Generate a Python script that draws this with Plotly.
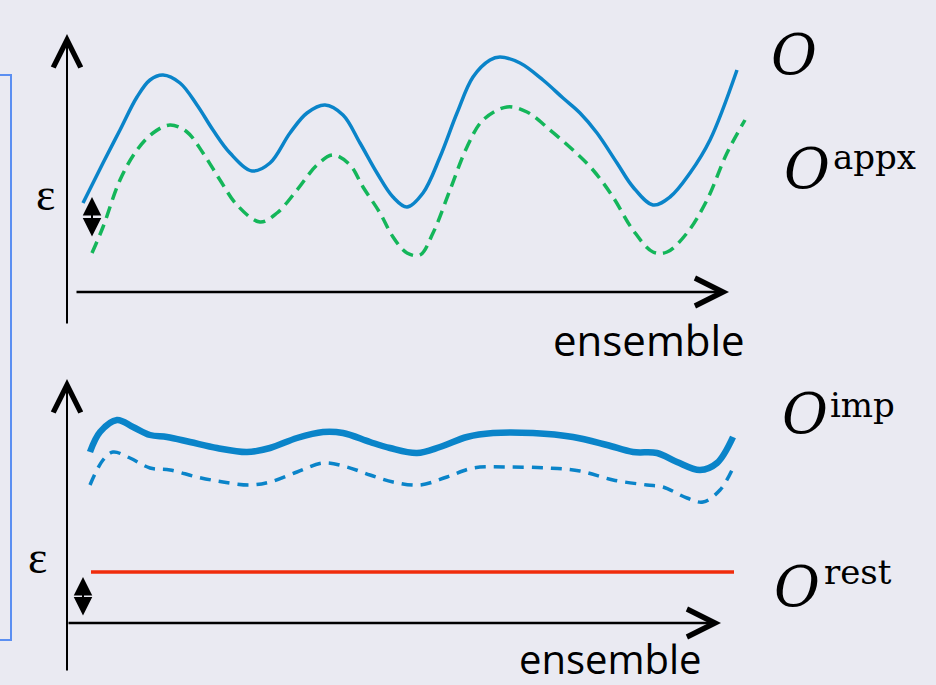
import plotly.graph_objects as go

# ---------------- data ----------------
# x = ensemble position, y = observable height above each panel's baseline axis
top_O_x = [16, 36, 53, 70, 83, 96, 113, 130, 146, 163, 185, 203, 223, 240, 258, 276, 293, 310, 326, 340,
           356, 373, 390, 406, 423, 433, 453, 476, 496, 513, 530, 550, 566, 586, 603, 623, 643, 670]
top_O_y = [89, 129, 162, 195, 212, 217, 209, 187, 162, 139, 121, 129, 159, 179, 187, 177, 149, 119, 95, 85,
           99, 135, 179, 215, 232, 235, 229, 212, 194, 179, 159, 129, 105, 87, 95, 119, 152, 222]

top_appx_x = [25, 36, 53, 70, 86, 103, 120, 136, 153, 170, 193, 210, 230, 250, 266, 283, 296, 313, 326, 340,
              353, 366, 383, 400, 416, 440, 460, 483, 506, 526, 546, 566, 586, 600, 620, 640, 660, 678]
top_appx_y = [39, 65, 112, 142, 159, 167, 160, 139, 112, 87, 70, 79, 102, 127, 137, 127, 105, 79, 55, 39,
              37, 59, 102, 145, 172, 185, 180, 162, 142, 122, 95, 62, 40, 40, 59, 92, 139, 172]

bot_imp_x = [23, 33, 50, 66, 83, 100, 123, 150, 180, 203, 230, 256, 276, 303, 323, 350, 373, 400, 426, 466,
             506, 540, 566, 590, 610, 633, 650, 666]
bot_imp_y = [171, 191, 203, 196, 188, 186, 181, 175, 171, 175, 185, 191, 190, 181, 175, 170, 176, 186, 190, 190,
             186, 178, 171, 170, 161, 153, 160, 186]

bot_dash_x = [23, 36, 46, 63, 83, 103, 130, 156, 183, 203, 230, 256, 280, 303, 326, 353, 380, 406, 440, 480,
              513, 546, 580, 596, 620, 636, 653, 666]
bot_dash_y = [138, 163, 171, 165, 155, 153, 146, 141, 138, 141, 151, 160, 156, 148, 141, 138, 146, 155, 156, 155,
              152, 143, 138, 136, 125, 121, 133, 155]

rest_x = [24, 667]
rest_y = [51, 51]

labels = {"O": "O", "appx": "appx", "imp": "imp", "rest": "rest"}
axis_label = "ensemble"
eps = "ε"

BLUE = "#0A84C9"
GREEN = "#14B65A"
RED = "#F02C0C"
BG = "#EAEAF2"
BRACKET = "#5B8FF2"

fig = go.Figure()

fig.add_trace(go.Scatter(x=top_O_x, y=top_O_y, mode="lines",
                         line=dict(color=BLUE, width=3.5, shape="spline", smoothing=1.0),
                         xaxis="x", yaxis="y", hoverinfo="skip"))
fig.add_trace(go.Scatter(x=top_appx_x, y=top_appx_y, mode="lines",
                         line=dict(color=GREEN, width=3.5, shape="spline", smoothing=1.0, dash="12px,7px"),
                         xaxis="x", yaxis="y", hoverinfo="skip"))
fig.add_trace(go.Scatter(x=bot_imp_x, y=bot_imp_y, mode="lines",
                         line=dict(color=BLUE, width=6.5, shape="spline", smoothing=1.0),
                         xaxis="x", yaxis="y2", hoverinfo="skip"))
fig.add_trace(go.Scatter(x=bot_dash_x, y=bot_dash_y, mode="lines",
                         line=dict(color=BLUE, width=3.5, shape="spline", smoothing=1.0, dash="11px,8px"),
                         xaxis="x", yaxis="y2", hoverinfo="skip"))
fig.add_trace(go.Scatter(x=rest_x, y=rest_y, mode="lines",
                         line=dict(color=RED, width=3.5),
                         xaxis="x", yaxis="y2", hoverinfo="skip"))

ann = []


def arrow(x, y, ax, ay, yref, width, size, head=5, both=False):
    d = dict(x=x, y=y, ax=ax, ay=ay, xref="x", yref=yref, axref="x", ayref=yref,
             showarrow=True, text="", arrowcolor="black", arrowwidth=width,
             arrowhead=head, arrowsize=size)
    if both:
        d.update(arrowside="end+start", startarrowhead=head, startarrowsize=size)
    ann.append(d)


# axes of the two panels
arrow(0, 258, 0, -33, "y", 2, 2.7)
arrow(662, 0, 8, 0, "y", 2.5, 2.2)
arrow(0, 244, 0, -49, "y2", 2, 2.7)
arrow(654, 0, 0, 0, "y2", 2.5, 2.2)

# epsilon double arrows
arrow(25, 95, 25, 54, "y", 2, 1.85, head=2, both=True)
arrow(16, 46, 16, 6, "y2", 2, 1.85, head=2, both=True)

SERIF = "DejaVu Serif"


def text(x, y, yref, s, size, family, xanchor="center"):
    ann.append(dict(x=x, y=y, xref="x", yref=yref, text=s, showarrow=False,
                    font=dict(family=family, size=size, color="black"),
                    xanchor=xanchor, yanchor="middle"))


text(-22, 98, "y", eps, 46, "Liberation Serif")
text(-30, 66, "y2", eps, 46, "Liberation Serif")

text(727, 238, "y", "<i>" + labels["O"] + "</i>", 56, SERIF)
text(740, 124, "y", "<i>" + labels["O"] + "</i>", 56, SERIF)
text(764, 135, "y", labels["appx"], 34, SERIF, "left")
text(738, 210, "y2", "<i>" + labels["O"] + "</i>", 56, SERIF)
text(761, 218, "y2", labels["imp"], 34, SERIF, "left")
text(730, 37, "y2", "<i>" + labels["O"] + "</i>", 56, SERIF)
text(755, 51, "y2", labels["rest"], 34, SERIF, "left")

text(680, -47, "y", axis_label, 42, "Open Sans", "right")
text(637, -35, "y2", axis_label, 40, "Open Sans", "right")

shapes = [dict(type="rect", xref="x", yref="y", x0=-90, x1=-56, y0=217, y1=-348,
               line=dict(color=BRACKET, width=2), fillcolor="rgba(0,0,0,0)", layer="below")]

fig.update_layout(
    width=936, height=685, autosize=False,
    margin=dict(l=0, r=0, t=0, b=0, pad=0),
    paper_bgcolor=BG, plot_bgcolor=BG,
    showlegend=False,
    xaxis=dict(range=[-67, 869], domain=[0, 1], visible=False, fixedrange=True),
    yaxis=dict(range=[-393, 292], domain=[0, 1], visible=False, fixedrange=True),
    yaxis2=dict(range=[-62, 623], domain=[0, 1], visible=False, overlaying="y", fixedrange=True),
    annotations=ann,
    shapes=shapes,
)

fig.write_html("out.html", config={"displayModeBar": False})
